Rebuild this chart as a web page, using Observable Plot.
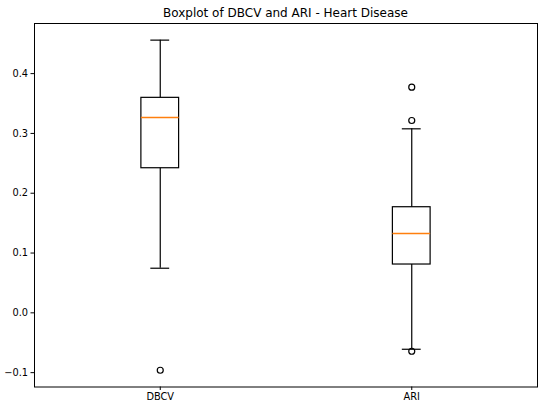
<!DOCTYPE html>
<html>
<head>
<meta charset="utf-8">
<script src="https://cdn.jsdelivr.net/npm/d3@7"></script>
<script src="https://cdn.jsdelivr.net/npm/@observablehq/plot@0.6"></script>
<style>
  body { margin: 0; background: #fff; font-family: "DejaVu Sans", sans-serif; }
  #title { width: 503px; padding-left: 34px; height: 22px; line-height: 26px; text-align: center; font-size: 12px; color: #000; box-sizing: content-box; }
</style>
</head>
<body>
<div id="title">Boxplot of DBCV and ARI - Heart Disease</div>
<div id="chart"></div>
<script>
const categories = ["DBCV", "ARI"];
const positions = [1, 2];
const whiskerLow = [0.0746, -0.0609];
const q1 = [0.2418, 0.0808];
const median = [0.3266, 0.1326];
const q3 = [0.3595, 0.1766];
const whiskerHigh = [0.456, 0.3077];
const outlierGroup = ["DBCV", "ARI", "ARI", "ARI"];
const outlierValue = [-0.096, 0.3773, 0.3216, -0.0642];
const yTicks = [-0.1, 0.0, 0.1, 0.2, 0.3, 0.4];

const boxes = categories.map((c, i) => ({
  cat: c, pos: positions[i], lo: whiskerLow[i], q1: q1[i], med: median[i], q3: q3[i], hi: whiskerHigh[i]
}));
const outliers = outlierGroup.map((c, i) => ({ pos: positions[categories.indexOf(c)], v: outlierValue[i] }));
const boxHalf = 0.075, capHalf = 0.0375;
const lw = 1.2;

const chart = Plot.plot({
  width: 550,
  height: 387,
  marginTop: 1,
  marginBottom: 22.5,
  marginLeft: 34,
  marginRight: 13,
  style: { fontFamily: "DejaVu Sans, sans-serif", fontSize: "9.8px", color: "#000", background: "#fff" },
  x: { domain: [0.5, 2.5], ticks: positions, tickFormat: (d) => categories[positions.indexOf(d)], label: null, tickSize: 3.5, tickPadding: 3 },
  y: { domain: [-0.124, 0.4838], ticks: yTicks, tickFormat: d3.format(".1f"), label: null, tickSize: 3.5, tickPadding: 3 },
  marks: [
    Plot.ruleX(boxes, { x: "pos", y1: "q3", y2: "hi", stroke: "#000", strokeWidth: lw }),
    Plot.ruleX(boxes, { x: "pos", y1: "lo", y2: "q1", stroke: "#000", strokeWidth: lw }),
    Plot.ruleY(boxes, { y: "hi", x1: (d) => d.pos - capHalf, x2: (d) => d.pos + capHalf, stroke: "#000", strokeWidth: lw }),
    Plot.ruleY(boxes, { y: "lo", x1: (d) => d.pos - capHalf, x2: (d) => d.pos + capHalf, stroke: "#000", strokeWidth: lw }),
    Plot.rect(boxes, { x1: (d) => d.pos - boxHalf, x2: (d) => d.pos + boxHalf, y1: "q1", y2: "q3", fill: "none", stroke: "#000", strokeWidth: lw }),
    Plot.ruleY(boxes, { y: "med", x1: (d) => d.pos - boxHalf, x2: (d) => d.pos + boxHalf, stroke: "#ff7f0e", strokeWidth: 1.5 }),
    Plot.dot(outliers, { x: "pos", y: "v", r: 3, stroke: "#000", fill: "none", strokeWidth: lw }),
    Plot.frame({ stroke: "#000", strokeWidth: 1 })
  ]
});
document.getElementById("chart").appendChild(chart);
</script>
</body>
</html>
